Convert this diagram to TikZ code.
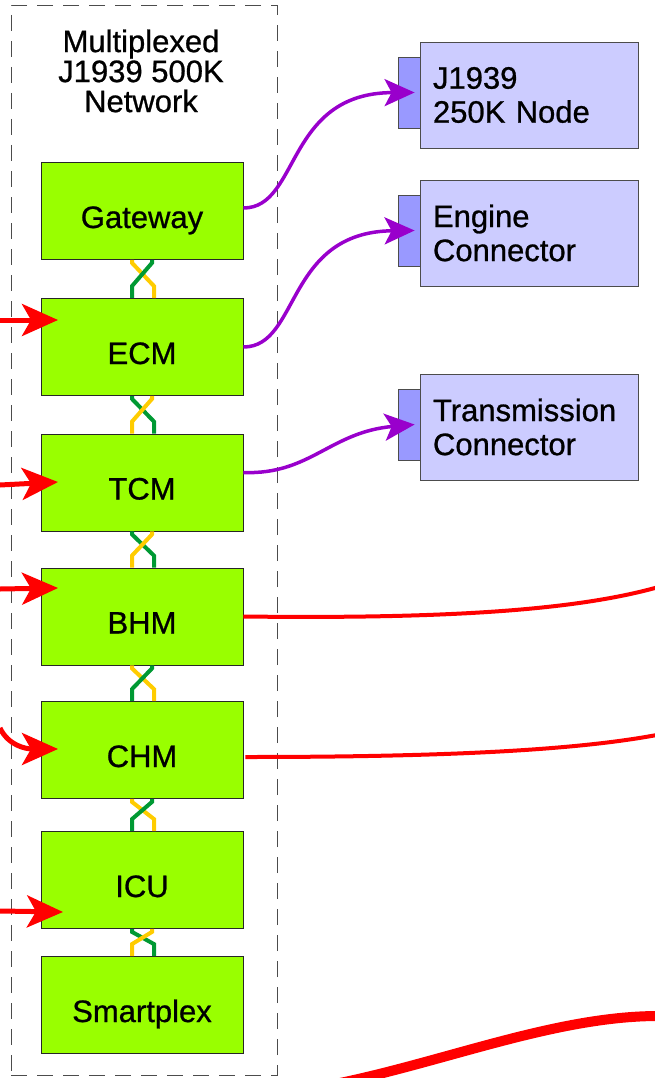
\documentclass[tikz,border=0pt]{standalone}
\usepackage{fontspec}
\setmainfont{Liberation Sans}[UprightFeatures={FakeBold=0.8}]
\usetikzlibrary{arrows.meta,calc}
\definecolor{gfill}{RGB}{153,255,0}
\definecolor{cfill}{RGB}{204,204,255}
\definecolor{tfill}{RGB}{153,153,255}
\definecolor{purp}{RGB}{153,0,204}
\definecolor{tyel}{RGB}{255,204,0}
\definecolor{tgrn}{RGB}{0,153,51}
\newcommand{\twistpair}[4]{%
  \draw[wire,#3] ([xshift=-10pt]#1.south) -- ([xshift=-10pt,yshift=-3pt]#1.south) -- ([xshift=12pt,yshift=12pt]#2.north) -- ([xshift=12pt]#2.north);
  \draw[wire,#4] ([xshift=10pt]#1.south) -- ([xshift=10pt,yshift=-3pt]#1.south) -- ([xshift=-10pt,yshift=12pt]#2.north) -- ([xshift=-10pt]#2.north);
}
\begin{document}
\begin{tikzpicture}[x=1pt,y=-1pt,
  gbox/.style={draw=black!85,line width=0.8pt,fill=gfill,minimum width=202pt,minimum height=97pt,inner sep=0pt,text height=34pt,text depth=0pt,font=\fontsize{31}{33}\selectfont},
  cbox/.style={draw=black!70,line width=0.8pt,fill=cfill,minimum height=106pt,text width=192pt,inner xsep=13pt,inner ysep=0pt,align=left,font=\fontsize{31}{34}\selectfont},
  tabbox/.style={draw=black!70,line width=0.8pt,fill=tfill,minimum width=22pt,minimum height=71pt,inner sep=0pt},
  netbox/.style={draw=black!70,line width=0.9pt,dash pattern=on 16pt off 10pt,minimum width=266pt,minimum height=1070pt,inner sep=0pt},
  parrow/.style={draw=purp,line width=3.5pt,-{Stealth[length=30pt,width=27pt,inset=7pt]}},
  rarrow/.style={draw=red,line width=5pt,-{Stealth[length=36pt,width=32pt,inset=9pt]}},
  rline/.style={draw=red,line width=4pt},
  wire/.style={line width=4pt,line join=miter}
]
\useasboundingbox (0,0) rectangle (654,1078);

\node[netbox] (net) at (144,540) {};
\node[align=center,font=\fontsize{31}{30}\selectfont] (title) at (141,71) {Multiplexed\\J1939 500K\\Network};

\node[gbox] (gw) at (142,211) {Gateway};
\node[gbox] (ecm) at (142,347) {ECM};
\node[gbox] (tcm) at (142,482.5) {TCM};
\node[gbox] (bhm) at (142,616.5) {BHM};
\node[gbox] (chm) at (142,750) {CHM};
\node[gbox] (icu) at (142,880) {ICU};
\node[gbox] (smp) at (142,1005) {Smartplex};

\twistpair{gw}{ecm}{tyel}{tgrn}
\twistpair{ecm}{tcm}{tgrn}{tyel}
\twistpair{tcm}{bhm}{tgrn}{tyel}
\twistpair{bhm}{chm}{tyel}{tgrn}
\twistpair{chm}{icu}{tyel}{tgrn}
\twistpair{icu}{smp}{tgrn}{tyel}

\node[cbox] (n1) at (529,95) {J1939\\250K Node};
\node[tabbox] (t1) at (409,92.5) {};
\node[cbox] (n2) at (529,233) {Engine\\Connector};
\node[tabbox] (t2) at (409,230.5) {};
\node[cbox] (n3) at (529,427) {Transmission\\Connector};
\node[tabbox] (t3) at (409,424.5) {};

\coordinate (t1in) at ([xshift=17pt]t1.west);
\coordinate (t2in) at ([xshift=17pt]t2.west);
\coordinate (t3in) at ([xshift=17pt]t3.west);

\draw[parrow] ([yshift=3pt]gw.east) .. controls (300,208) and (285,93) .. (t1in);
\draw[parrow] (ecm.east) .. controls (300,347) and (285,232) .. (t2in);
\draw[parrow] ([yshift=10pt]tcm.east) .. controls (310,475) and (330,432) .. (t3in);

% left incoming arrows
\coordinate (s1) at (0,320);   \coordinate (e1) at (58,320);
\coordinate (s2) at (0,485);   \coordinate (e2) at (58,482);
\coordinate (s3) at (0,589);   \coordinate (e3) at (58,588);
\coordinate (s4) at (0,728);   \coordinate (e4) at (58,749);
\coordinate (s5) at (0,911);   \coordinate (e5) at (63,912);
\draw[rarrow] (s1) -- (e1);
\draw[rarrow] (s2) -- (e2);
\draw[rarrow] (s3) -- (e3);
\draw[rarrow] (s4) .. controls (8,745) and (25,749) .. (e4);
\draw[rarrow] (s5) -- (e5);

% right outgoing lines
\coordinate (r1) at (662,586);
\coordinate (r2) at (662,734);
\draw[rline] (bhm.east) .. controls (450,619) and (580,610) .. (r1);
\draw[rline] ([xshift=2pt,yshift=-7pt]chm.east) .. controls (450,757) and (580,750) .. (r2);

% bottom thick line
\coordinate (b1) at (340,1083);
\coordinate (b2) at (662,1016);
\draw[red,line width=10pt] (b1) .. controls (450,1060) and (560,1015) .. (b2);
\end{tikzpicture}
\end{document}
